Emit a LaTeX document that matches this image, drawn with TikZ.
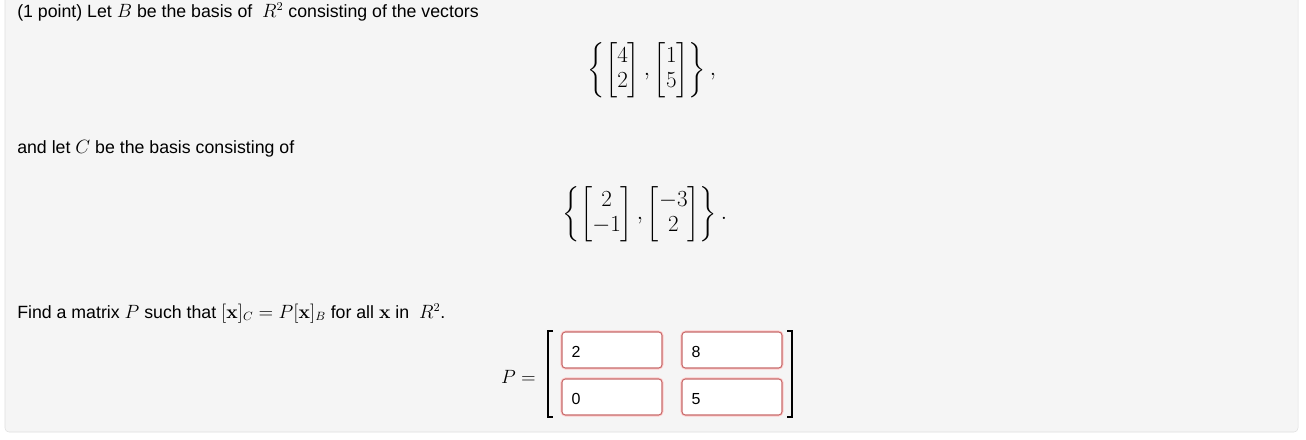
\documentclass[tikz,border=0pt]{standalone}
\usepackage{amsmath}
\usepackage[no-math]{fontspec}
\setmainfont{Liberation Sans}
\begin{document}
\begin{tikzpicture}[x=0.75pt,y=-0.75pt,
  txt/.style={anchor=base west,inner sep=0pt,font=\fontsize{13.3}{15}\selectfont},
  mat/.style={inner sep=0pt,font=\fontsize{17}{19}\selectfont},
  ansbox/.style={draw=red!45!gray!80,line width=0.8pt,fill=white,rounded corners=2.5pt,minimum width=75pt,minimum height=27pt,inner sep=0pt},
  glow/.style={draw=red!20,line width=2.5pt,rounded corners=3pt,minimum width=75pt,minimum height=27pt,inner sep=0pt},
  val/.style={anchor=base west,inner sep=0pt,font=\fontsize{12}{14}\selectfont}]
\useasboundingbox (0,0) rectangle (1306,439);
\fill[white] (0,0) rectangle (1306,439);
\draw[fill=gray!8,draw=gray!25,rounded corners=3pt] (5,-5) rectangle (1298,432);
\node[txt] (t1) at (17,17) {(1 point) Let $B$ be the basis of \ $R^2$ consisting of the vectors};
\node[mat] (m1) at (652,70) {$\left\{\begin{bmatrix}4\\2\end{bmatrix},\begin{bmatrix}1\\5\end{bmatrix}\right\},$};
\node[txt] (t2) at (17,153) {and let $C$ be the basis consisting of};
\node[mat] (m2) at (645,214) {$\left\{\begin{bmatrix}2\\-1\end{bmatrix},\begin{bmatrix}-3\\2\end{bmatrix}\right\}.$};
\node[txt] (t3) at (17,318) {Find a matrix $P$ such that $[\mathbf{x}]_C=P[\mathbf{x}]_B$ for all $\mathbf{x}$ in \ $R^2$.};
\node[anchor=east,inner sep=0pt,font=\fontsize{15}{17}\selectfont] (peq) at (536,377) {$P=$};
\draw[line width=1.2pt] (553,331) -- (548,331) -- (548,417) -- (553,417);
\draw[line width=1.2pt] (787,331) -- (792,331) -- (792,417) -- (787,417);
\foreach \n/\x/\y/\v in {a/612/350/2,b/732/350/8,c/612/397/0,d/732/397/5}{
  \node[glow] at (\x,\y) {};
  \node[ansbox] (\n) at (\x,\y) {};
  \node[val] at ([xshift=10*0.75pt,yshift=-5.5pt]\n.west) {\v};
}
\end{tikzpicture}
\end{document}
